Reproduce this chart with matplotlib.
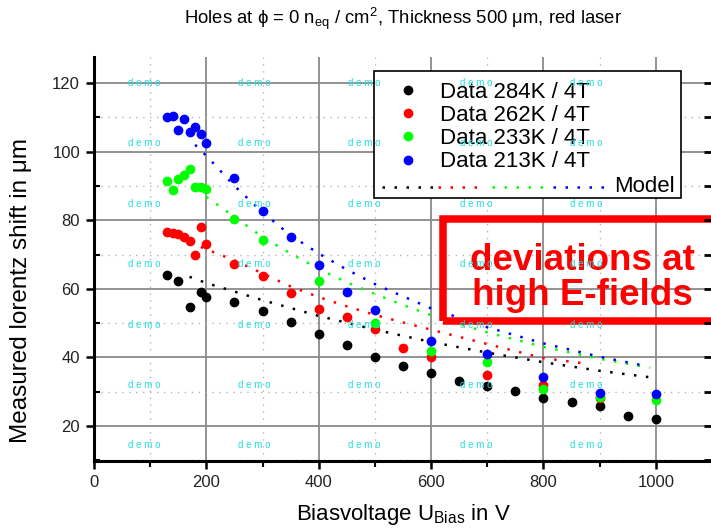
import matplotlib
matplotlib.use('Agg')
import matplotlib.pyplot as plt
from matplotlib.patches import Rectangle
from matplotlib.ticker import MultipleLocator

plt.rcParams['font.family'] = ['Liberation Sans', 'DejaVu Sans']
plt.rcParams['mathtext.fontset'] = 'custom'
plt.rcParams['mathtext.rm'] = 'Liberation Sans'
plt.rcParams['mathtext.it'] = 'Liberation Sans:italic'
plt.rcParams['mathtext.bf'] = 'Liberation Sans:bold'

# measured points (bias voltage in V, lorentz shift in um)
v_284 = [130, 150, 170, 190, 200, 250, 300, 350, 400, 450, 500, 550, 600, 650, 700, 750, 800, 850, 900, 950, 1000]
s_284 = [64.0, 62.3, 54.8, 59.2, 57.7, 56.1, 53.6, 50.4, 46.8, 43.7, 40.0, 37.5, 35.5, 33.1, 31.7, 30.3, 28.2, 26.9, 25.8, 23.0, 22.0]

v_262 = [130, 140, 150, 160, 170, 180, 190, 200, 250, 300, 350, 400, 450, 500, 550, 600, 700, 800, 900]
s_262 = [76.6, 76.2, 76.0, 75.2, 73.9, 69.9, 77.9, 73.0, 67.1, 63.7, 58.7, 54.0, 51.9, 48.2, 42.8, 40.0, 34.9, 32.0, 28.1]

v_233 = [130, 140, 150, 160, 170, 180, 190, 200, 250, 300, 400, 500, 600, 700, 800, 900, 1000]
s_233 = [91.4, 88.8, 91.9, 93.2, 94.8, 89.6, 89.6, 89.0, 80.5, 74.2, 62.4, 49.9, 42.0, 38.8, 30.8, 28.5, 27.7]

v_213 = [130, 140, 150, 160, 170, 180, 190, 200, 250, 300, 350, 400, 450, 500, 600, 700, 800, 900, 1000]
s_213 = [110.2, 110.5, 106.3, 109.4, 105.6, 107.1, 105.1, 102.6, 92.2, 82.7, 75.2, 66.9, 59.2, 53.8, 44.8, 41.0, 34.3, 29.7, 29.2]

# model curves
mv_284 = [170, 200, 250, 300, 350, 400, 500, 600, 700, 800, 900, 1000]
ms_284 = [63.5, 61.7, 59.2, 56.7, 54.4, 52.1, 48.1, 44.5, 41.4, 38.6, 36.1, 34.0]

mv_262 = [190, 250, 300, 350, 400, 450, 500, 550, 600, 700, 800, 880]
ms_262 = [72.2, 68.3, 64.5, 60.7, 57.6, 54.9, 52.4, 50.2, 48.1, 43.9, 39.8, 38.1]

mv_233 = [200, 250, 300, 350, 400, 450, 500, 550, 600, 700, 800, 900, 990]
ms_233 = [86.8, 81.0, 75.1, 70.3, 65.8, 61.9, 58.5, 55.3, 52.3, 47.3, 43.1, 39.6, 37.0]

mv_213 = [180, 200, 250, 300, 350, 400, 450, 500, 550, 600, 700, 800, 900, 985]
ms_213 = [102.0, 98.8, 90.0, 82.3, 75.6, 70.3, 65.6, 61.4, 57.8, 54.3, 48.8, 44.1, 40.2, 37.4]

labels = ['Data 284K / 4T', 'Data 262K / 4T', 'Data 233K / 4T', 'Data 213K / 4T']
colors = ['black', '#ff0000', '#00ff00', '#0000ff']

W, H = 711, 528
fig = plt.figure(figsize=(W / 100, H / 100), dpi=100)
ax = fig.add_axes([94 / W, 1 - 461 / H, 618 / W, 404 / H])

dots = (0, (1, 3.8))
models = [(mv_284, ms_284), (mv_262, ms_262), (mv_233, ms_233), (mv_213, ms_213)]
for (mv, ms), c in zip(models, colors):
    ax.plot(mv, ms, ls=dots, lw=1.8, color=c, zorder=3)

data = [(v_284, s_284), (v_262, s_262), (v_233, s_233), (v_213, s_213)]
handles = []
for (v, s), c, lab in zip(data, colors, labels):
    h, = ax.plot(v, s, 'o', ls='none', ms=6, color=c, mec=c, label=lab, zorder=4)
    handles.append(h)

ax.set_xlim(0, 1100)
ax.set_ylim(9.8, 127.6)
ax.xaxis.set_major_locator(MultipleLocator(200))
ax.xaxis.set_minor_locator(MultipleLocator(100))
ax.yaxis.set_minor_locator(MultipleLocator(10))
ax.set_yticks([20, 40, 60, 80, 100, 120])

ax.set_axisbelow(True)
ax.grid(which='major', color='#8a8a8a', lw=1.3, ls='-')
ax.grid(which='minor', color='#b5b5b5', lw=1.0, ls=(0, (1, 4)))

for side in ['top', 'right']:
    ax.spines[side].set_visible(False)
for side in ['left', 'bottom']:
    ax.spines[side].set_linewidth(2.2)

ax.tick_params(axis='both', which='major', direction='out', length=6, width=1.8,
               labelsize=12, labelcolor='#222222', pad=4)
ax.tick_params(axis='y', which='minor', direction='in', length=4, width=1.5)
ax.tick_params(axis='x', which='minor', direction='out', length=4, width=1.5)

ax_r = ax.twinx()
ax_r.set_ylim(ax.get_ylim())
ax_r.yaxis.set_major_locator(MultipleLocator(20))
ax_r.yaxis.set_minor_locator(MultipleLocator(10))
ax_r.tick_params(which='both', direction='in', length=6, width=2, labelright=False)
for side in ['top', 'right', 'left', 'bottom']:
    ax_r.spines[side].set_visible(False)

ax.set_title('Holes at \u03d5 = 0 n$_{\\rm eq}$ / cm$^{2}$, Thickness 500 \u03bcm, red laser',
             fontsize=13.3, pad=24)
ax.set_xlabel('Biasvoltage U$_{\\rm Bias}$ in V', fontsize=16, labelpad=9)
ax.set_ylabel('Measured lorentz shift in \u03bcm', fontsize=17.5)
ax.yaxis.set_label_coords(-0.100, 0.423)

# legend: data rows plus a model row inside a drawn frame
ax.legend(handles=handles, loc='upper left', bbox_to_anchor=(0.490, 0.939),
          frameon=False, fontsize=16, handlelength=1.0, handletextpad=0.94,
          labelspacing=0.1, borderpad=0, borderaxespad=0)
ax.add_patch(Rectangle((0.4531, 0.651), 0.4967, 0.3143, transform=ax.transAxes,
                       fill=True, facecolor='white', edgecolor='black', lw=1.2, zorder=5))
seg_x = [(0.466, 0.549), (0.557, 0.629), (0.644, 0.733), (0.743, 0.830)]
for (x0, x1), c in zip(seg_x, colors):
    ax.plot([x0, x1], [0.678, 0.678], transform=ax.transAxes, ls=dots, lw=1.8,
            color=c, zorder=6, clip_on=False)
ax.text(0.940, 0.680, 'Model', transform=ax.transAxes, ha='right', va='center',
        fontsize=16, zorder=6)

# highlight box
ax.add_patch(Rectangle((0.5647, 0.3453), 0.6, 0.2525, transform=ax.transAxes,
                       fill=False, edgecolor='#ff0000', lw=5.4, zorder=7, clip_on=False))
ax.text(0.790, 0.453, 'deviations at\nhigh E-fields', transform=ax.transAxes,
        ha='center', va='center', color='#ff0000', fontsize=26.5, fontweight='bold',
        linespacing=1.0, zorder=7)

# demo watermark
for ypx in [83, 143, 204, 264, 325, 385, 445]:
    for xpx in [128, 238, 348, 460, 570]:
        fig.text(xpx / W, 1 - ypx / H, 'd e m o', fontsize=7, color='#22dddd',
                 ha='left', va='center', zorder=10)

fig.savefig('out.png', dpi=100)
